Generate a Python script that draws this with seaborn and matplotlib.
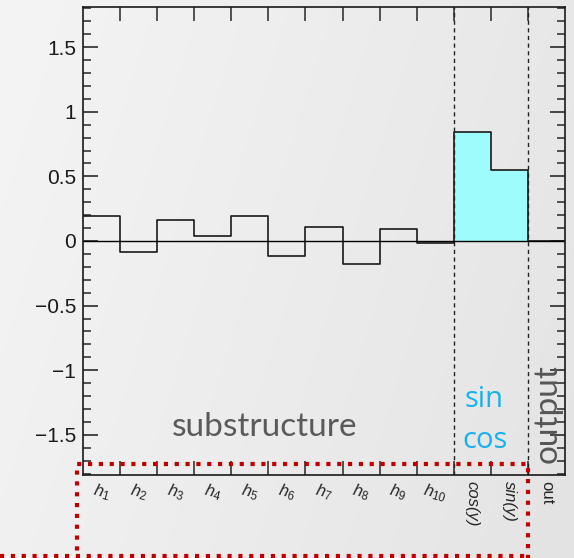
import numpy as np
import pandas as pd
import matplotlib
matplotlib.use("Agg")
import matplotlib.pyplot as plt
from matplotlib.lines import Line2D
from matplotlib.ticker import MultipleLocator
import seaborn as sns

# 数据：每个bin的名称与数值
categories = ["h1", "h2", "h3", "h4", "h5", "h6", "h7", "h8", "h9", "h10",
              "cos(y)", "sin(y)", "out"]
tick_labels = [r"$h_{1}$", r"$h_{2}$", r"$h_{3}$", r"$h_{4}$", r"$h_{5}$",
               r"$h_{6}$", r"$h_{7}$", r"$h_{8}$", r"$h_{9}$", r"$h_{10}$",
               "cos(y)", "sin(y)", "out"]
values = [0.193, -0.082, 0.162, 0.039, 0.193, -0.113, 0.106, -0.180, 0.096,
          -0.018, 0.846, 0.547, 0.0]
filled = ["cos(y)", "sin(y)"]

sns.set_style("ticks")
plt.rcParams['font.family'] = ['Liberation Sans', 'DejaVu Sans']
plt.rcParams['mathtext.fontset'] = 'custom'
plt.rcParams['mathtext.it'] = 'Liberation Sans:italic'
plt.rcParams['mathtext.rm'] = 'Liberation Sans'

W, H = 574, 558
bg = '#ededed'
fig = plt.figure(figsize=(W / 100, H / 100), dpi=100, facecolor=bg)

# 背景渐变（左亮右暗）
grad = np.tile(np.linspace(0.955, 0.905, W), (H, 1))
grad = grad - 0.015 * np.linspace(0, 1, H)[:, None]
fig.figimage(grad, cmap='gray', vmin=0, vmax=1, zorder=-10)

ax = fig.add_axes([83 / W, 1 - 475 / H, (565 - 83) / W, (475 - 7) / H])
ax.set_facecolor('none')
ax.set_zorder(1)

n = len(categories)
edges = list(range(n + 1))
df = pd.DataFrame({"cat": categories, "pos": [i + 0.5 for i in range(n)],
                   "val": values})
df_fill = df[df["cat"].isin(filled)]
i0 = categories.index(filled[0])
i1 = categories.index(filled[-1])

# 填充的部分 (cos, sin)
sns.histplot(data=df_fill, x="pos", weights="val", bins=edges[i0:i1 + 2],
             element='step', fill=True, color='#9ffcfc', alpha=1,
             linewidth=0, ax=ax)
# 直方图轮廓
sns.histplot(data=df, x="pos", weights="val", bins=edges, element='step',
             fill=False, color='#1a1a1a', linewidth=1.2, ax=ax)

ax.axhline(0, color='black', lw=1.0)
for xv in (i0, i1 + 1):
    ax.axvline(xv, color='#222222', lw=1.0, ls=(0, (3, 2.5)))

ax.set_xlim(0, n)
ax.set_ylim(-1.81, 1.81)
ax.set_xlabel("")
ax.set_ylabel("")

# y 轴刻度
ax.yaxis.set_minor_locator(MultipleLocator(0.1))
ax.set_yticks([-1.5, -1, -0.5, 0, 0.5, 1, 1.5])
ax.set_yticklabels(["\u22121.5", "\u22121", "\u22120.5", "0", "0.5", "1", "1.5"])
ax.tick_params(axis='y', which='major', direction='in', length=11, width=1.1,
               left=True, right=True, labelsize=15, pad=5, colors='#1a1a1a')
ax.tick_params(axis='y', which='minor', direction='in', length=5.5, width=1.1,
               left=True, right=True)

# x 轴刻度：边界处刻度线，中心处标签
ax.set_xticks(edges[1:-1])
ax.set_xticklabels([])
ax.tick_params(axis='x', which='major', direction='in', length=10, width=1.1,
               top=True, bottom=True)
ax.set_xticks(df["pos"], minor=True)
ax.set_xticklabels(tick_labels, minor=True)
ax.tick_params(axis='x', which='minor', length=0, pad=4, labelsize=12)
for lab, cat in zip(ax.get_xticklabels(minor=True), categories):
    if cat.startswith('h'):
        lab.set_rotation(-15)
    else:
        lab.set_rotation(-90)
        lab.set_fontstyle('italic' if cat != 'out' else 'normal')
    lab.set_va('top')
    lab.set_ha('center')

for s in ax.spines.values():
    s.set_color('#1a1a1a')
    s.set_linewidth(1.2)

# 注释文字
fig.text(265 / W, 1 - 436 / H, "substructure", family=['Lato', 'DejaVu Sans'],
         fontsize=24, color='#5a5a5a', ha='center', va='baseline', zorder=5)
fig.text(484 / W, 1 - 407 / H, "sin", family=['Open Sans', 'DejaVu Sans'],
         fontsize=21, color='#15b2ee', ha='center', va='baseline', zorder=5)
fig.text(485 / W, 1 - 448 / H, "cos", family=['Open Sans', 'DejaVu Sans'],
         fontsize=21, color='#15b2ee', ha='center', va='baseline', zorder=5)
fig.text(548 / W, 1 - 414 / H, "output", family=['Lato', 'DejaVu Sans'],
         fontsize=24, color='#555555', rotation=90, ha='center', va='center',
         zorder=5)

# 红色虚线框
red = '#c00000'
def red_line(xs, ys):
    fig.add_artist(Line2D([x / W for x in xs], [1 - y / H for y in ys],
                          transform=fig.transFigure, color=red, lw=3.0,
                          ls=(0, (1, 1.6)), solid_capstyle='butt',
                          dash_capstyle='butt', zorder=5))

red_line([528, 528, 77, 77], [560, 464, 464, 556])
red_line([0, 528], [556, 556])

fig.savefig("out.png", dpi=100, facecolor=bg)
